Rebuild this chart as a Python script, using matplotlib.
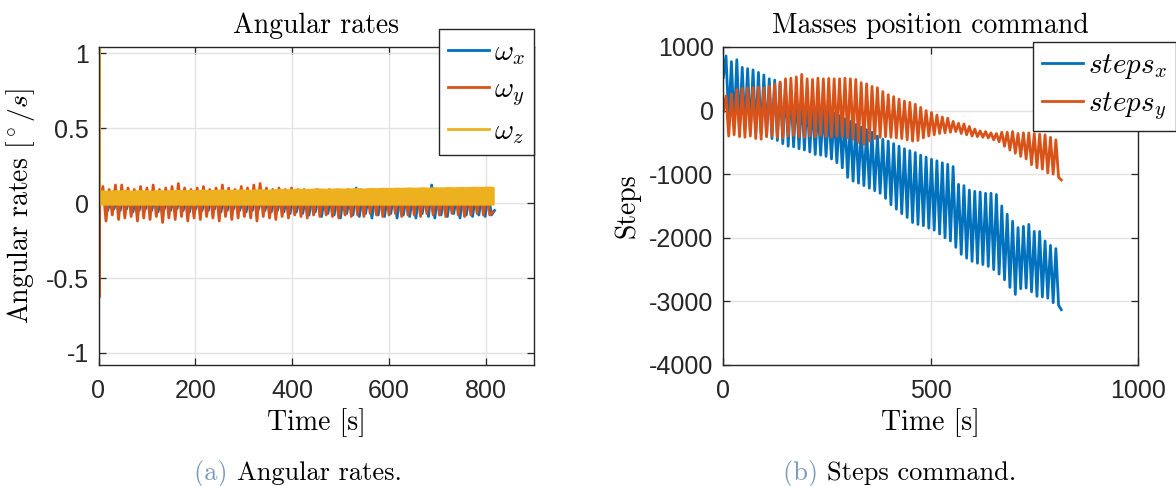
import numpy as np
import matplotlib
matplotlib.use("Agg")
import matplotlib.pyplot as plt
from matplotlib.lines import Line2D

plt.rcParams["mathtext.fontset"] = "cm"
plt.rcParams["font.family"] = ["Liberation Sans", "DejaVu Sans"]
plt.rcParams["axes.unicode_minus"] = False

# ---------------------------------------------------------------- data
T_END = 815.0          # experiment length [s]
N_CYC = 62             # oscillation cycles over the run

# Angular rates [deg/s]: per-cycle maxima / minima
wy_hi = [0.11, 0.09, 0.12, 0.12, 0.10, 0.09, 0.11, 0.10, 0.12, 0.09,
         0.10, 0.11, 0.13, 0.10, 0.09, 0.10, 0.11, 0.09, 0.10, 0.12,
         0.10, 0.09, 0.11, 0.10, 0.12, 0.13, 0.10, 0.09, 0.10, 0.09,
         0.10, 0.09, 0.09, 0.08, 0.09, 0.08, 0.09, 0.08, 0.08, 0.09,
         0.08, 0.09, 0.08, 0.08, 0.09, 0.08, 0.08, 0.09, 0.08, 0.08,
         0.09, 0.08, 0.08, 0.09, 0.08, 0.08, 0.09, 0.08, 0.08, 0.08,
         0.09, 0.08]
wy_lo = [-0.12, -0.08, -0.11, -0.10, -0.09, -0.12, -0.10, -0.11, -0.09, -0.13,
         -0.10, -0.11, -0.09, -0.12, -0.10, -0.11, -0.09, -0.10, -0.12, -0.09,
         -0.11, -0.10, -0.09, -0.10, -0.12, -0.09, -0.10, -0.11, -0.09, -0.10,
         -0.08, -0.09, -0.10, -0.08, -0.09, -0.08, -0.09, -0.10, -0.08, -0.09,
         -0.08, -0.09, -0.07, -0.08, -0.09, -0.08, -0.07, -0.09, -0.08, -0.08,
         -0.09, -0.07, -0.08, -0.08, -0.09, -0.07, -0.08, -0.09, -0.08, -0.07,
         -0.08, -0.08]
wx_hi = [0.04, 0.03, 0.04, 0.05, 0.04, 0.03, 0.04, 0.04, 0.05, 0.04,
         0.03, 0.04, 0.04, 0.05, 0.04, 0.04, 0.03, 0.04, 0.05, 0.04,
         0.04, 0.03, 0.04, 0.04, 0.05, 0.04, 0.04, 0.05, 0.04, 0.04,
         0.05, 0.04, 0.05, 0.04, 0.05, 0.05, 0.04, 0.05, 0.06, 0.05,
         0.10, 0.05, 0.06, 0.05, 0.06, 0.05, 0.06, 0.05, 0.06, 0.05,
         0.06, 0.05, 0.12, 0.06, 0.05, 0.06, 0.05, 0.06, 0.05, 0.06,
         0.05, 0.06]
wx_lo = [-0.05, -0.04, -0.05, -0.04, -0.06, -0.05, -0.04, -0.05, -0.06, -0.04,
         -0.05, -0.04, -0.05, -0.06, -0.04, -0.05, -0.05, -0.04, -0.06, -0.05,
         -0.04, -0.05, -0.06, -0.05, -0.04, -0.05, -0.06, -0.05, -0.06, -0.07,
         -0.06, -0.07, -0.08, -0.06, -0.09, -0.07, -0.08, -0.10, -0.07, -0.08,
         -0.09, -0.07, -0.10, -0.08, -0.09, -0.07, -0.10, -0.08, -0.09, -0.10,
         -0.07, -0.09, -0.10, -0.08, -0.09, -0.07, -0.10, -0.08, -0.09, -0.08,
         -0.09, -0.08]
wz_top = [0.080, 0.075, 0.080, 0.078, 0.082, 0.076, 0.080, 0.079, 0.076, 0.081,
          0.078, 0.080, 0.082, 0.079, 0.081, 0.080, 0.083, 0.080, 0.082, 0.084,
          0.081, 0.083, 0.085, 0.082, 0.084, 0.086, 0.083, 0.085, 0.088, 0.086,
          0.088, 0.090, 0.087, 0.090, 0.092, 0.089, 0.091, 0.093, 0.090, 0.092,
          0.094, 0.091, 0.095, 0.093, 0.096, 0.094, 0.097, 0.095, 0.098, 0.096,
          0.099, 0.097, 0.100, 0.098, 0.101, 0.099, 0.102, 0.100, 0.103, 0.101,
          0.104, 0.102]
wz_bot = [-0.005] * N_CYC
wy_spike = -0.63
wz_spike = 1.04

# Masses position command [steps]: per-cycle maxima / minima
sx_start, sx_end = 520, -3130
sx_hi = [860, 770, 800, 680, 660, 640, 600, 560, 500, 480,
         440, 380, 320, 270, 220, 170, 120, 80, 40, 0,
         -40, -80, -130, -170, -220, -260, -300, -340, -400, -450,
         -480, -520, -560, -600, -630, -660, -700, -730, -765, -790,
         -820, -845, -880, -1160, -1180, -1250, -1270, -1280, -1300, -1300,
         -1320, -1500, -1630, -1740, -1840, -1820, -1790, -1900, -1900, -2050,
         -2120, -2170]
sx_lo = [-150, -250, -300, -280, -330, -350, -360, -400, -440, -470,
         -520, -560, -570, -600, -620, -650, -690, -700, -720, -760,
         -820, -900, -1050, -1110, -1140, -1180, -1220, -1260, -1300, -1380,
         -1480, -1550, -1620, -1680, -1760, -1790, -1810, -1850, -1880, -1940,
         -2000, -2050, -2150, -2260, -2320, -2370, -2400, -2420, -2450, -2500,
         -2570, -2660, -2780, -2890, -2800, -2790, -2850, -2920, -2930, -2950,
         -3020, -3060]
sy_start, sy_end = -20, -1090
sy_hi = [230, 260, 330, 350, 360, 360, 370, 360, 380, 420,
         450, 500, 510, 530, 570, 500, 490, 510, 500, 505,
         500, 500, 510, 500, 490, 440, 420, 380, 360, 300,
         250, 220, 180, 150, 130, 100, 50, 0, -30, -70,
         -100, -120, -170, -200, -210, -250, -290, -320, -330, -350,
         -360, -340, -340, -330, -360, -350, -350, -360, -370, -380,
         -420, -460]
sy_lo = [-400, -380, -410, -420, -400, -440, -450, -410, -400, -420,
         -430, -400, -390, -410, -420, -400, -410, -390, -410, -420,
         -400, -410, -430, -450, -500, -530, -480, -440, -420, -410,
         -420, -430, -440, -460, -480, -470, -430, -400, -380, -360,
         -350, -340, -330, -360, -380, -400, -410, -420, -430, -460,
         -490, -560, -620, -670, -720, -760, -850, -900, -920, -980,
         -1000, -1050]

C_BLUE, C_ORANGE, C_YELLOW = "#0072BD", "#D95319", "#EDB120"
AX_COLOR = "#262626"
GRID_COLOR = "#e3e3e3"
SERIF = "cmr10"
LW = 2.0


def zigzag(start, hi, lo, end):
    vals = [start]
    for h, l in zip(hi, lo):
        vals += [h, l]
    vals.append(end)
    return np.array(vals, dtype=float)


def style_axes(ax):
    ax.set_axisbelow(True)
    ax.grid(True, color=GRID_COLOR, linewidth=1.0)
    for sp in ax.spines.values():
        sp.set_color(AX_COLOR)
        sp.set_linewidth(1.0)
    ax.tick_params(direction="in", which="both", top=True, right=True,
                   length=5, width=0.9, colors=AX_COLOR, labelsize=18)
    ax.tick_params(axis="x", pad=10)
    ax.tick_params(axis="y", pad=7)


def boxed_legend(handles, labels, anchor, loc, spacing):
    leg = fig.legend(handles, labels, loc=loc, bbox_to_anchor=anchor,
                     fontsize=21, frameon=True, fancybox=False, framealpha=1,
                     edgecolor=AX_COLOR, handlelength=1.4, handletextpad=0.2,
                     borderpad=0.3, labelspacing=spacing, borderaxespad=0)
    leg.get_frame().set_linewidth(1.0)
    return leg


fig = plt.figure(figsize=(11.76, 4.86), dpi=100)
W, H = 1176.0, 486.0

# ------------------------------------------------------ angular rates
ax1 = fig.add_axes([98.5 / W, 1 - 365 / H, 435.5 / W, 318 / H])
n_pts = 2 * N_CYC + 2
t_rate = np.linspace(2.5, T_END, n_pts)

wx = zigzag(0.0, wx_hi, wx_lo, -0.05)
wy = zigzag(0.0, wy_hi, wy_lo, -0.06)
ax1.plot(np.concatenate([[0.0], t_rate + 3.5]), np.concatenate([[0.0], wx]),
         color=C_BLUE, lw=LW, zorder=2)
ax1.plot(np.concatenate([[0.0, 1.2], t_rate]), np.concatenate([[0.0, wy_spike], wy]),
         color=C_ORANGE, lw=LW, zorder=2.1)
# omega_z: initial transient, then its fast oscillation drawn as a filled band
t_band = np.linspace(2.5, T_END, N_CYC)
ax1.plot([0.0, 1.4, 2.5], [0.05, wz_spike, wz_top[0]], color=C_YELLOW, lw=LW, zorder=2.2)
ax1.fill_between(t_band, wz_bot, wz_top, color=C_YELLOW, lw=LW,
                 edgecolor=C_YELLOW, zorder=2.2)

ax1.set_xlim(0, 900)
ax1.set_ylim(-1.08, 1.04)
ax1.set_xticks([0, 200, 400, 600, 800])
ax1.set_yticks([-1, -0.5, 0, 0.5, 1])
ax1.set_yticklabels(["-1", "-0.5", "0", "0.5", "1"])
style_axes(ax1)
ax1.set_title("Angular rates", fontfamily=SERIF, fontsize=20, pad=10)
ax1.set_xlabel("Time [s]", fontfamily=SERIF, fontsize=20, labelpad=4)
ax1.set_ylabel(r"Angular rates [$^\circ/s$]", fontfamily=SERIF, fontsize=20, labelpad=6)

h1 = [Line2D([], [], color=c, lw=LW) for c in (C_BLUE, C_ORANGE, C_YELLOW)]
boxed_legend(h1, [r"$\omega_x$", r"$\omega_y$", r"$\omega_z$"],
             (534 / W, 1 - 29 / H), "upper right", 0.3)

# ------------------------------------------------------ steps command
ax2 = fig.add_axes([723.3 / W, 1 - 365 / H, 414.7 / W, 318 / H])
t_steps = np.linspace(0.0, T_END, n_pts)
ax2.plot(t_steps, zigzag(sx_start, sx_hi, sx_lo, sx_end), color=C_BLUE, lw=LW)
ax2.plot(t_steps, zigzag(sy_start, sy_hi, sy_lo, sy_end), color=C_ORANGE, lw=LW)
ax2.set_xlim(0, 1000)
ax2.set_ylim(-4000, 1000)
ax2.set_xticks([0, 500, 1000])
ax2.set_yticks([-4000, -3000, -2000, -1000, 0, 1000])
style_axes(ax2)
ax2.set_title("Masses position command", fontfamily=SERIF, fontsize=20, pad=10)
ax2.set_xlabel("Time [s]", fontfamily=SERIF, fontsize=20, labelpad=4)
ax2.set_ylabel("Steps", fontfamily=SERIF, fontsize=20, labelpad=6)

h2 = [Line2D([], [], color=c, lw=LW) for c in (C_BLUE, C_ORANGE)]
boxed_legend(h2, [r"$steps_x$", r"$steps_y$"],
             (1033 / W, 1 - 42 / H), "upper left", 0.3)

# ------------------------------------------------------ captions
CAP_BLUE = "#7b9bbb"
fig.canvas.draw()
rend = fig.canvas.get_renderer()
for x_c, tag, text in ((298, "(a)", "Angular rates."), (900, "(b)", "Steps command.")):
    t1 = fig.text(0, 0, tag + " ", fontfamily=SERIF, fontsize=19, color=CAP_BLUE)
    t2 = fig.text(0, 0, text, fontfamily=SERIF, fontsize=19, color="black")
    w1 = t1.get_window_extent(rend).width
    w2 = t2.get_window_extent(rend).width
    x0 = x_c - (w1 + w2) / 2
    t1.set_position((x0 / W, 1 - 480 / H))
    t2.set_position(((x0 + w1) / W, 1 - 480 / H))

fig.savefig("out.png", dpi=100)
